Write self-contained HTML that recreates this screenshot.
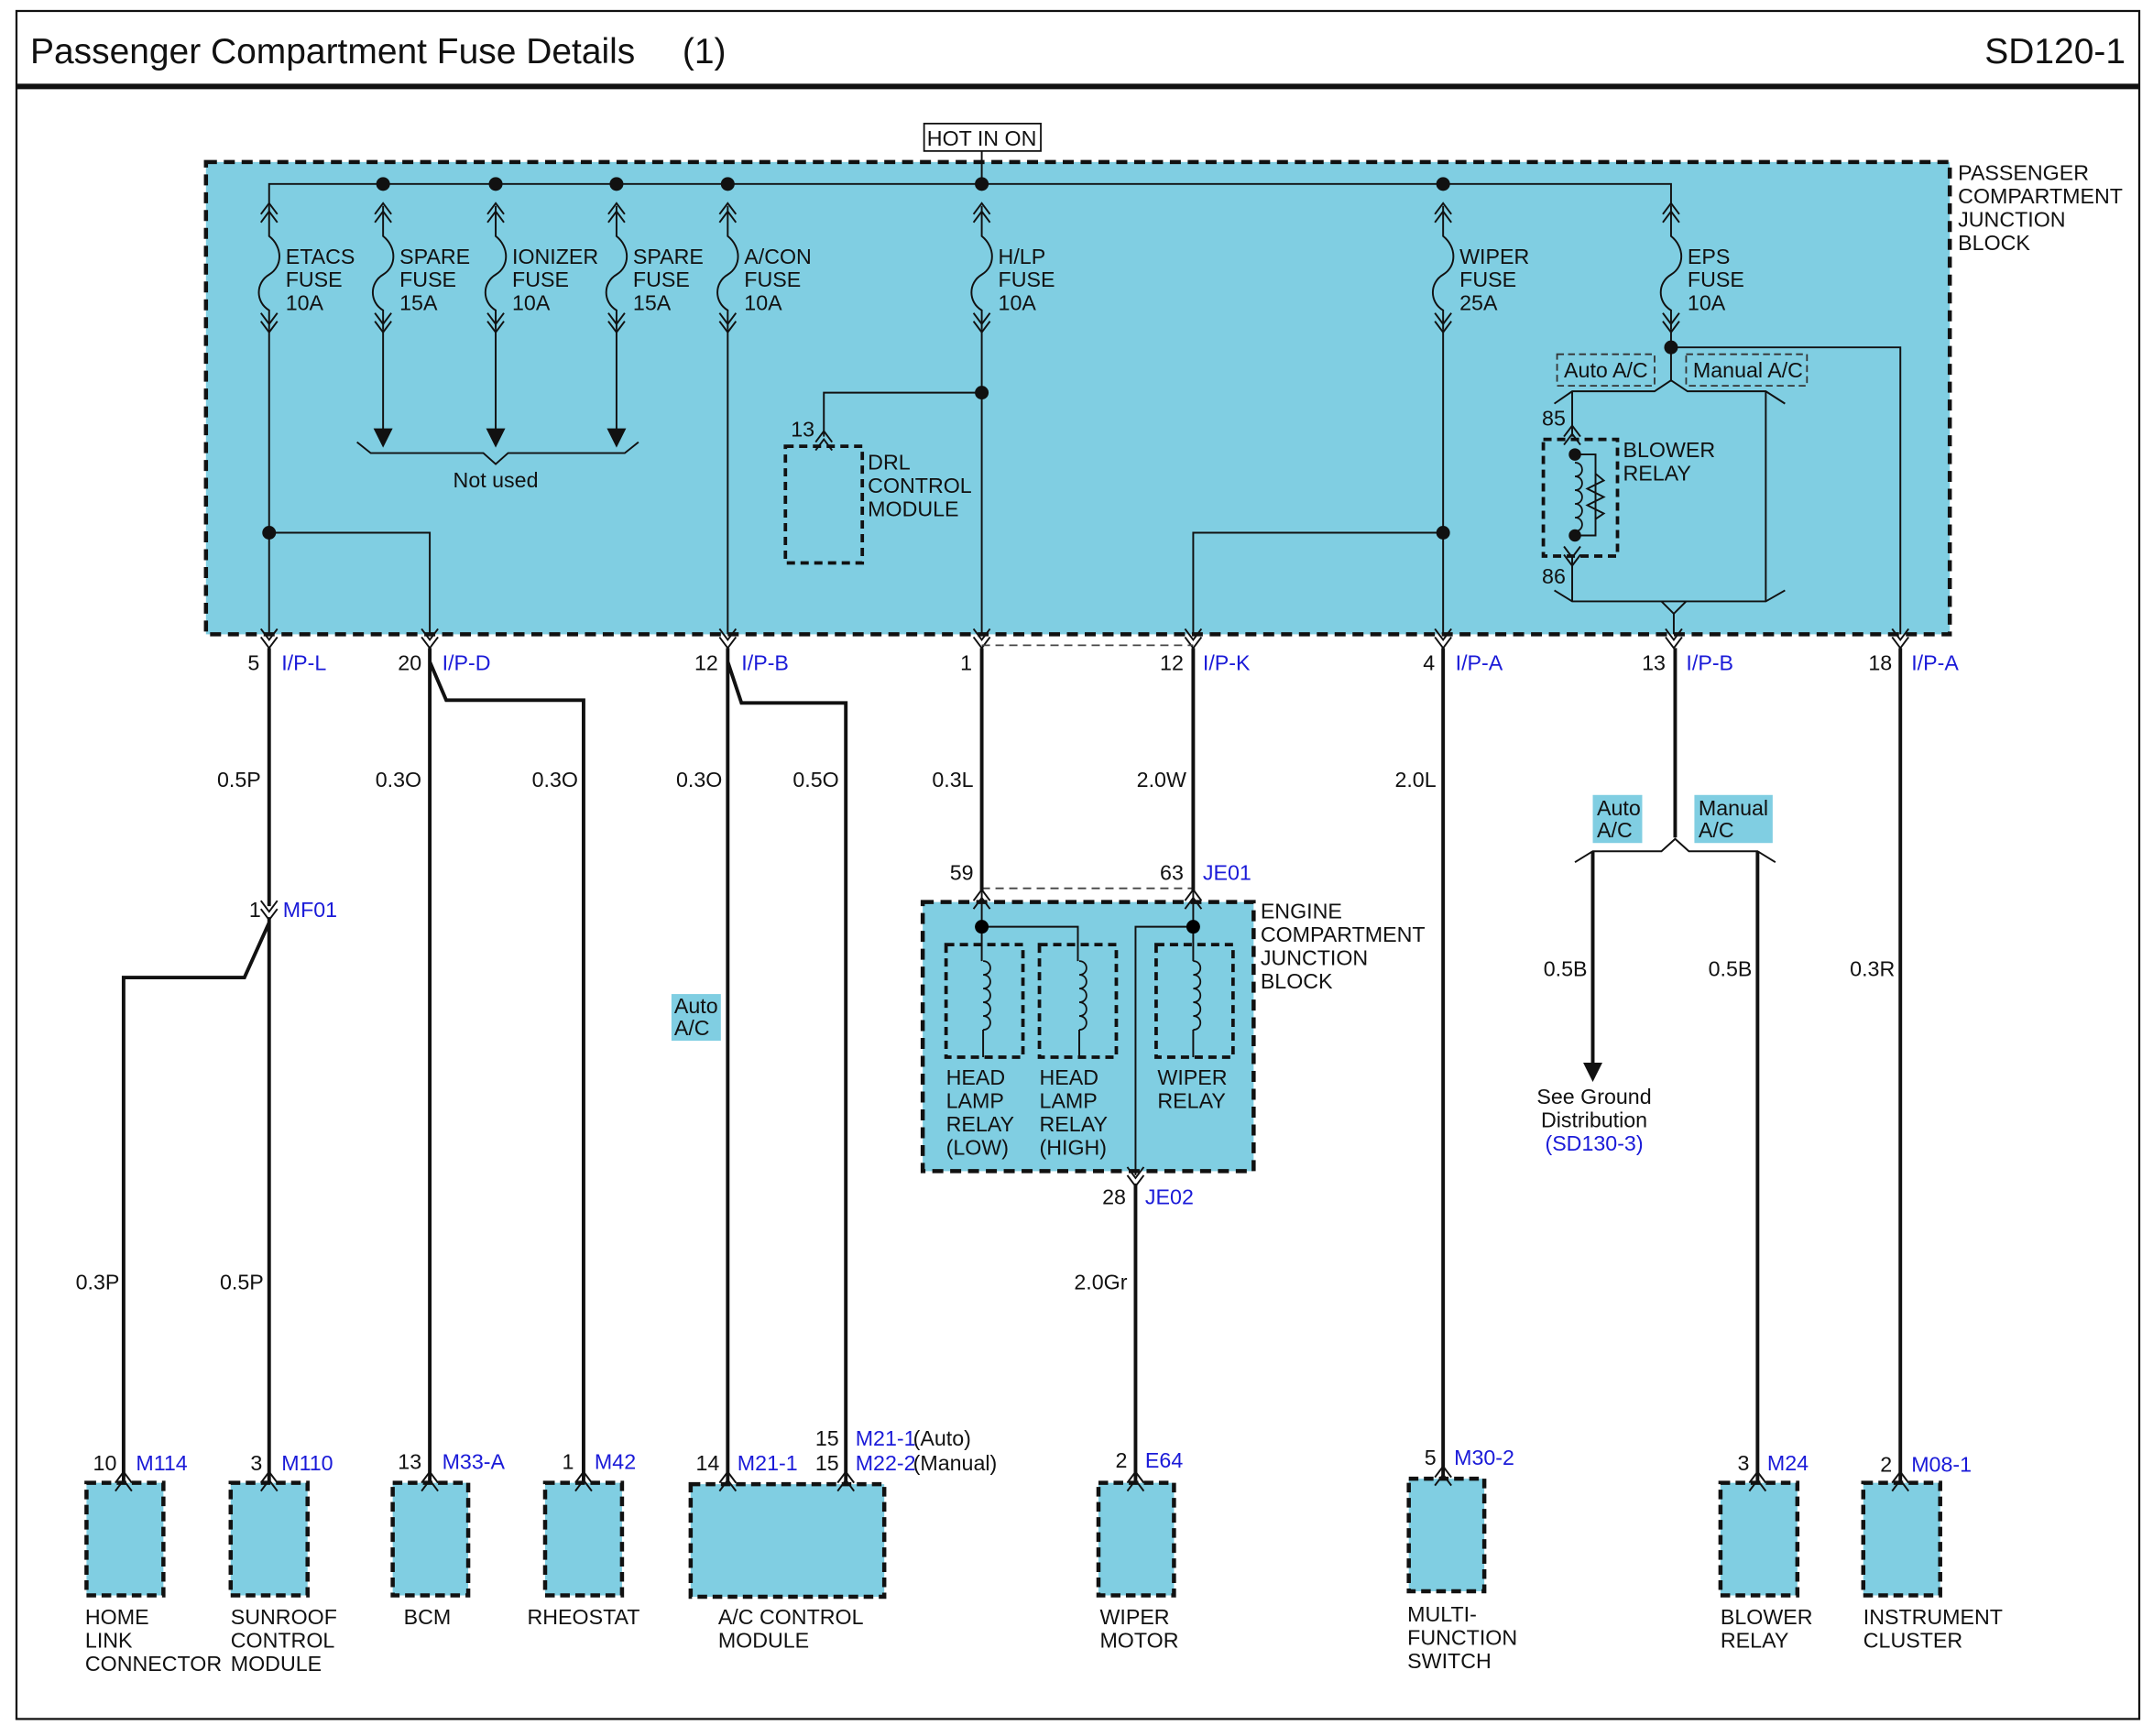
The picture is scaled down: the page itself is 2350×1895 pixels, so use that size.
<!DOCTYPE html>
<html><head><meta charset="utf-8"><style>
html,body{margin:0;padding:0;background:#fff;}
svg{display:block;}
text{font-family:"Liberation Sans",Arial,sans-serif;font-size:15.5px;fill:#111;}
.b{fill:#1a1ad8;}
.t{font-size:26px;}
</style></head><body>
<svg width="2350" height="1895" viewBox="0 0 1568 1264.4" preserveAspectRatio="none" xmlns="http://www.w3.org/2000/svg">
<defs>
<g id="cd" fill="none" stroke="#111" stroke-width="1.3"><path d="M-6,-8 L0,0 L6,-8 M-6,-2 L0,6 L6,-2"/></g>
<g id="cu" fill="none" stroke="#111" stroke-width="1.3"><path d="M-6,8 L0,0 L6,8 M-6,2 L0,-6 L6,2"/></g>
<g id="fuse" fill="none" stroke="#111" stroke-width="1.3">
<path d="M-6,162 L0,154 L6,162 M-6,156 L0,148 L6,156"/>
<path d="M0,150 L0,172 C10,180 10,194 0,200 C-10,206 -10,220 0,226 L0,240"/>
<path d="M-6,228 L0,236 L6,228 M-6,234 L0,242 L6,234"/>
</g>
<g id="coil" fill="none" stroke="#111" stroke-width="1.2"><path d="M0,0 C7,0 7,10 0,10 C7,10 7,20 0,20 C7,20 7,30 0,30 C7,30 7,40 0,40 C7,40 7,50 0,50"/></g>
</defs>
<rect x="12" y="8" width="1546" height="1244" fill="none" stroke="#111" stroke-width="1.5"/>
<line x1="12" y1="63" x2="1558" y2="63" stroke="#111" stroke-width="4"/>
<text x="22" y="46" class="t">Passenger Compartment Fuse Details</text>
<text x="497" y="46" class="t">(1)</text>
<text x="1548" y="46" class="t" text-anchor="end">SD120-1</text>

<!-- Passenger block -->
<rect x="150" y="118" width="1270" height="344" fill="#80cee2" stroke="#111" stroke-width="3" stroke-dasharray="8,5"/>
<text x="1426" y="131">PASSENGER</text><text x="1426" y="148">COMPARTMENT</text><text x="1426" y="165">JUNCTION</text><text x="1426" y="182">BLOCK</text>
<rect x="673" y="90" width="85" height="20" fill="#fff" stroke="#111" stroke-width="1.2"/>
<text x="715" y="106" text-anchor="middle">HOT IN ON</text>
<g stroke="#111" stroke-width="1.3" fill="none">
<path d="M715,110 L715,134"/>
<path d="M196,150 L196,134 L1217,134 L1217,150"/>
<path d="M279,240 L279,315 M361,240 L361,315 M449,240 L449,315"/>
<path d="M260,322 L270,330 L352,330 L361,338 L370,330 L455,330 L465,322"/>
<path d="M196,240 L196,462 M196,388 L313,388 L313,462"/>
<path d="M530,240 L530,462 M715,240 L715,462"/>
<path d="M715,286 L600,286 L600,318"/>
<path d="M1051,240 L1051,462 M1051,388 L869,388 L869,462"/>
<path d="M1217,240 L1217,278 M1217,253 L1384,253 L1384,462"/>
<path d="M1132,294 L1145,285 L1205,285 L1217,277 L1229,285 L1286,285 L1300,294"/>
<path d="M1145,285 L1145,318 M1286,285 L1286,438"/>
<path d="M1145,405 L1145,438 M1132,430 L1145,438 L1286,438 L1300,430 M1145,438 L1210,438 L1219,447 L1228,438 M1219,447 L1219,462"/>
<path d="M1147,331 L1162,331 L1162,390 L1147,390"/>
<path d="M1162,345 L1168,350 L1156,356 L1168,362 L1156,368 L1168,374 L1162,378"/>
</g>
<g fill="#111"><path d="M272,312 L286,312 L279,326 Z M354,312 L368,312 L361,326 Z M442,312 L456,312 L449,326 Z"/></g>
<use href="#fuse" x="196"/><use href="#fuse" x="279"/><use href="#fuse" x="361"/><use href="#fuse" x="449"/><use href="#fuse" x="530"/><use href="#fuse" x="715"/><use href="#fuse" x="1051"/><use href="#fuse" x="1217"/>
<g fill="#111">
<circle cx="279" cy="134" r="5"/><circle cx="361" cy="134" r="5"/><circle cx="449" cy="134" r="5"/><circle cx="530" cy="134" r="5"/><circle cx="715" cy="134" r="5"/><circle cx="1051" cy="134" r="5"/>
<circle cx="196" cy="388" r="5"/><circle cx="715" cy="286" r="5"/><circle cx="1051" cy="388" r="5"/><circle cx="1217" cy="253" r="5"/>
<circle cx="1147" cy="331" r="4.5"/><circle cx="1147" cy="390" r="4.5"/>
</g>
<use href="#coil" x="1147" y="337"/>
<g>
<text x="208" y="192">ETACS</text><text x="208" y="209">FUSE</text><text x="208" y="226">10A</text>
<text x="291" y="192">SPARE</text><text x="291" y="209">FUSE</text><text x="291" y="226">15A</text>
<text x="373" y="192">IONIZER</text><text x="373" y="209">FUSE</text><text x="373" y="226">10A</text>
<text x="461" y="192">SPARE</text><text x="461" y="209">FUSE</text><text x="461" y="226">15A</text>
<text x="542" y="192">A/CON</text><text x="542" y="209">FUSE</text><text x="542" y="226">10A</text>
<text x="727" y="192">H/LP</text><text x="727" y="209">FUSE</text><text x="727" y="226">10A</text>
<text x="1063" y="192">WIPER</text><text x="1063" y="209">FUSE</text><text x="1063" y="226">25A</text>
<text x="1229" y="192">EPS</text><text x="1229" y="209">FUSE</text><text x="1229" y="226">10A</text>
<text x="361" y="355" text-anchor="middle">Not used</text>
<text x="576" y="318">13</text>
<text x="632" y="342">DRL</text><text x="632" y="359">CONTROL</text><text x="632" y="376">MODULE</text>
<text x="1182" y="333">BLOWER</text><text x="1182" y="350">RELAY</text>
<text x="1123" y="310">85</text><text x="1123" y="425">86</text>
</g>
<rect x="572" y="325" width="56" height="85" fill="none" stroke="#111" stroke-width="2.5" stroke-dasharray="6,4"/>
<rect x="1124" y="320" width="54" height="85" fill="none" stroke="#111" stroke-width="2.5" stroke-dasharray="6,4"/>
<use href="#cu" x="600" y="320"/><use href="#cu" x="1145" y="316"/><use href="#cd" x="1145" y="406"/>
<rect x="1134" y="258" width="71" height="23" fill="none" stroke="#333" stroke-width="1.2" stroke-dasharray="5,3"/>
<rect x="1228" y="258" width="88" height="23" fill="none" stroke="#333" stroke-width="1.2" stroke-dasharray="5,3"/>
<text x="1139" y="275">Auto A/C</text><text x="1233" y="275">Manual A/C</text>

<!-- connectors at block bottom -->
<use href="#cd" x="196" y="466"/><use href="#cd" x="313" y="466"/><use href="#cd" x="530" y="466"/><use href="#cd" x="715" y="466"/><use href="#cd" x="869" y="466"/><use href="#cd" x="1051" y="466"/><use href="#cd" x="1219" y="466"/><use href="#cd" x="1384" y="466"/>
<text x="189" y="488" text-anchor="end">5</text><text x="205" y="488" class="b">I/P-L</text>
<text x="307" y="488" text-anchor="end">20</text><text x="322" y="488" class="b">I/P-D</text>
<text x="523" y="488" text-anchor="end">12</text><text x="540" y="488" class="b">I/P-B</text>
<text x="708" y="488" text-anchor="end">1</text>
<text x="862" y="488" text-anchor="end">12</text><text x="876" y="488" class="b">I/P-K</text>
<text x="1045" y="488" text-anchor="end">4</text><text x="1060" y="488" class="b">I/P-A</text>
<text x="1213" y="488" text-anchor="end">13</text><text x="1228" y="488" class="b">I/P-B</text>
<text x="1378" y="488" text-anchor="end">18</text><text x="1392" y="488" class="b">I/P-A</text>
<path d="M715,470 L869,470 M715,647 L869,647" stroke="#444" stroke-width="1.2" stroke-dasharray="6,4"/>

<!-- thick wires -->
<g stroke="#111" stroke-width="2.6" fill="none">
<path d="M196,472 L196,660 M196,668 L196,1080 M196,672 L178,712 L90,712 L90,1080"/>
<path d="M313,472 L313,1080 M313,482 L325,510 L425,510 L425,1080"/>
<path d="M530,472 L530,1080 M530,482 L540,512 L616,512 L616,1080"/>
<path d="M715,472 L715,650 M869,472 L869,650"/>
<path d="M827,862 L827,1080"/>
<path d="M1051,472 L1051,1076"/>
<path d="M1220,472 L1220,610"/>
<path d="M1160,620 L1160,778 M1280,620 L1280,1080"/>
<path d="M1384,472 L1384,1080"/>
</g>
<path d="M1147,628 L1160,620 L1210,620 L1220,611 L1230,620 L1280,620 L1293,628" stroke="#111" stroke-width="1.3" fill="none"/>
<path d="M1153,774 L1167,774 L1160,788 Z" fill="#111"/>
<use href="#cd" x="196" y="664"/>
<text x="190" y="668" text-anchor="end">1</text><text x="206" y="668" class="b">MF01</text>
<g text-anchor="end">
<text x="190" y="573">0.5P</text><text x="307" y="573">0.3O</text><text x="421" y="573">0.3O</text><text x="526" y="573">0.3O</text><text x="611" y="573">0.5O</text><text x="709" y="573">0.3L</text><text x="864" y="573">2.0W</text><text x="1046" y="573">2.0L</text>
<text x="1156" y="711">0.5B</text><text x="1276" y="711">0.5B</text><text x="1380" y="711">0.3R</text>
<text x="87" y="939">0.3P</text><text x="192" y="939">0.5P</text><text x="821" y="939">2.0Gr</text>
</g>
<rect x="489" y="724" width="36" height="34" fill="#80cee2"/>
<text x="491" y="738">Auto</text><text x="491" y="754">A/C</text>
<rect x="1160" y="579" width="36" height="35" fill="#80cee2"/>
<text x="1163" y="594">Auto</text><text x="1163" y="610">A/C</text>
<rect x="1234" y="579" width="57" height="35" fill="#80cee2"/>
<text x="1237" y="594">Manual</text><text x="1237" y="610">A/C</text>
<g text-anchor="middle"><text x="1161" y="804">See Ground</text><text x="1161" y="821">Distribution</text><text x="1161" y="838" class="b">(SD130-3)</text></g>

<!-- engine block -->
<rect x="672" y="657" width="241" height="196" fill="#80cee2" stroke="#111" stroke-width="3" stroke-dasharray="8,5"/>
<text x="918" y="669">ENGINE</text><text x="918" y="686">COMPARTMENT</text><text x="918" y="703">JUNCTION</text><text x="918" y="720">BLOCK</text>
<use href="#cu" x="715" y="654"/><use href="#cu" x="869" y="654"/>
<text x="709" y="641" text-anchor="end">59</text><text x="862" y="641" text-anchor="end">63</text><text x="876" y="641" class="b">JE01</text>
<g stroke="#111" stroke-width="1.3" fill="none">
<path d="M715,650 L715,700 M715,675 L785,675 L785,700 M869,650 L869,700 M869,675 L827,675 L827,856"/>
<path d="M716,750 L716,770 M786,750 L786,770 M869,750 L869,770"/>
</g>
<use href="#coil" x="716" y="700"/><use href="#coil" x="786" y="700"/><use href="#coil" x="869" y="700"/>
<circle cx="715" cy="675" r="5"/><circle cx="869" cy="675" r="5"/>
<g fill="none" stroke="#111" stroke-width="2.5" stroke-dasharray="6,4">
<rect x="689" y="688" width="56" height="82"/><rect x="757" y="688" width="56" height="82"/><rect x="842" y="688" width="56" height="82"/>
</g>
<text x="689" y="790">HEAD</text><text x="689" y="807">LAMP</text><text x="689" y="824">RELAY</text><text x="689" y="841">(LOW)</text>
<text x="757" y="790">HEAD</text><text x="757" y="807">LAMP</text><text x="757" y="824">RELAY</text><text x="757" y="841">(HIGH)</text>
<text x="843" y="790">WIPER</text><text x="843" y="807">RELAY</text>
<use href="#cd" x="827" y="858"/>
<text x="820" y="877" text-anchor="end">28</text><text x="834" y="877" class="b">JE02</text>

<!-- bottom components -->
<g fill="#80cee2" stroke="#111" stroke-width="3" stroke-dasharray="7,4">
<rect x="63" y="1080" width="56" height="82"/><rect x="168" y="1080" width="56" height="82"/><rect x="286" y="1080" width="55" height="82"/><rect x="397" y="1080" width="56" height="82"/><rect x="503" y="1081" width="141" height="82"/><rect x="800" y="1080" width="55" height="82"/><rect x="1026" y="1077" width="55" height="82"/><rect x="1253" y="1080" width="56" height="82"/><rect x="1357" y="1080" width="56" height="82"/>
</g>
<use href="#cu" x="90" y="1078"/><use href="#cu" x="196" y="1078"/><use href="#cu" x="313" y="1078"/><use href="#cu" x="425" y="1078"/><use href="#cu" x="530" y="1078"/><use href="#cu" x="616" y="1078"/><use href="#cu" x="827" y="1078"/><use href="#cu" x="1051" y="1074"/><use href="#cu" x="1280" y="1078"/><use href="#cu" x="1384" y="1078"/>
<g>
<text x="85" y="1071" text-anchor="end">10</text><text x="99" y="1071" class="b">M114</text>
<text x="191" y="1071" text-anchor="end">3</text><text x="205" y="1071" class="b">M110</text>
<text x="307" y="1070" text-anchor="end">13</text><text x="322" y="1070" class="b">M33-A</text>
<text x="418" y="1070" text-anchor="end">1</text><text x="433" y="1070" class="b">M42</text>
<text x="524" y="1071" text-anchor="end">14</text><text x="537" y="1071" class="b">M21-1</text>
<text x="611" y="1053" text-anchor="end">15</text><text x="623" y="1053" class="b">M21-1</text><text x="665" y="1053">(Auto)</text>
<text x="611" y="1071" text-anchor="end">15</text><text x="623" y="1071" class="b">M22-2</text><text x="665" y="1071">(Manual)</text>
<text x="821" y="1069" text-anchor="end">2</text><text x="834" y="1069" class="b">E64</text>
<text x="1046" y="1067" text-anchor="end">5</text><text x="1059" y="1067" class="b">M30-2</text>
<text x="1274" y="1071" text-anchor="end">3</text><text x="1287" y="1071" class="b">M24</text>
<text x="1378" y="1072" text-anchor="end">2</text><text x="1392" y="1072" class="b">M08-1</text>
<text x="62" y="1183">HOME</text><text x="62" y="1200">LINK</text><text x="62" y="1217">CONNECTOR</text>
<text x="168" y="1183">SUNROOF</text><text x="168" y="1200">CONTROL</text><text x="168" y="1217">MODULE</text>
<text x="294" y="1183">BCM</text>
<text x="384" y="1183">RHEOSTAT</text>
<text x="523" y="1183">A/C CONTROL</text><text x="523" y="1200">MODULE</text>
<text x="801" y="1183">WIPER</text><text x="801" y="1200">MOTOR</text>
<text x="1025" y="1181">MULTI-</text><text x="1025" y="1198">FUNCTION</text><text x="1025" y="1215">SWITCH</text>
<text x="1253" y="1183">BLOWER</text><text x="1253" y="1200">RELAY</text>
<text x="1357" y="1183">INSTRUMENT</text><text x="1357" y="1200">CLUSTER</text>
</g>
</svg>
</body></html>
